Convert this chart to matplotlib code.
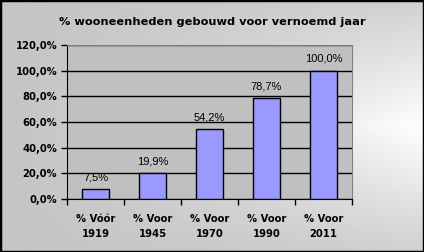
import numpy as np
import matplotlib
matplotlib.use("Agg")
import matplotlib.pyplot as plt
from matplotlib.patches import Rectangle

categories = ["% Vóór\n1919", "% Voor\n1945", "% Voor\n1970", "% Voor\n1990", "% Voor\n2011"]
values = [7.5, 19.9, 54.2, 78.7, 100.0]
yticks = [0, 20, 40, 60, 80, 100, 120]

fig = plt.figure(figsize=(4.24, 2.52), dpi=100)

# background: grey on the left, fading to white towards the right middle
bg = fig.add_axes([0, 0, 1, 1], zorder=-10)
yy, xx = np.mgrid[0:1:200j, 0:1:300j]
f = np.clip(xx ** 1.3 * (1 - np.abs(yy - 0.5) * 1.6), 0, 1)
shade = 0.77 + 0.23 * f
bg.imshow(shade, cmap="gray", vmin=0, vmax=1, aspect="auto", extent=[0, 1, 0, 1], origin="upper")
bg.axis("off")
bg.add_patch(Rectangle((0, 0), 1, 1, transform=bg.transAxes, fill=False, lw=2.5, ec="black"))

W, H = 424, 252
ax = fig.add_axes([67 / W, 1 - 199 / H, (352 - 67) / W, (199 - 45) / H])
ax.set_facecolor("#c0c0c0")

x = np.arange(len(values))
ax.bar(x, values, width=0.46, color="#9999ff", edgecolor="black", linewidth=1, zorder=3)
for xi, v in zip(x, values):
    ax.annotate(f"{v:.1f}%".replace(".", ","), (xi, v), xytext=(0, 5), textcoords="offset points",
                ha="center", va="bottom", fontsize=8, family="Liberation Sans", color="black", zorder=4)

ax.set_xlim(-0.5, len(values) - 0.5)
ax.set_ylim(0, 120)
ax.set_yticks(yticks)
ax.set_yticklabels([f"{t:.1f}%".replace(".", ",") for t in yticks], fontsize=7.2, fontweight="bold")
ax.yaxis.grid(True, color="black", lw=1, zorder=1)
ax.set_axisbelow(True)

ax.set_xticks(np.arange(len(values) + 1) - 0.5)
ax.set_xticklabels([])
ax.set_xticks(x, minor=True)
ax.set_xticklabels(categories, minor=True, fontsize=7.2, fontweight="bold", linespacing=1.6)
ax.tick_params(axis="x", which="minor", length=0, pad=11)
ax.tick_params(axis="x", which="major", length=4, width=1, direction="out")
ax.tick_params(axis="y", length=4, width=1, direction="out", pad=3)

for s in ["top", "right"]:
    ax.spines[s].set_color("#808080")
for s in ["left", "bottom"]:
    ax.spines[s].set_color("black")

fig.text(0.5, 1 - 22 / H, "% wooneenheden gebouwd voor vernoemd jaar", ha="center", va="center",
         fontsize=8.2, fontweight="bold")

fig.savefig("out.png", dpi=100)
